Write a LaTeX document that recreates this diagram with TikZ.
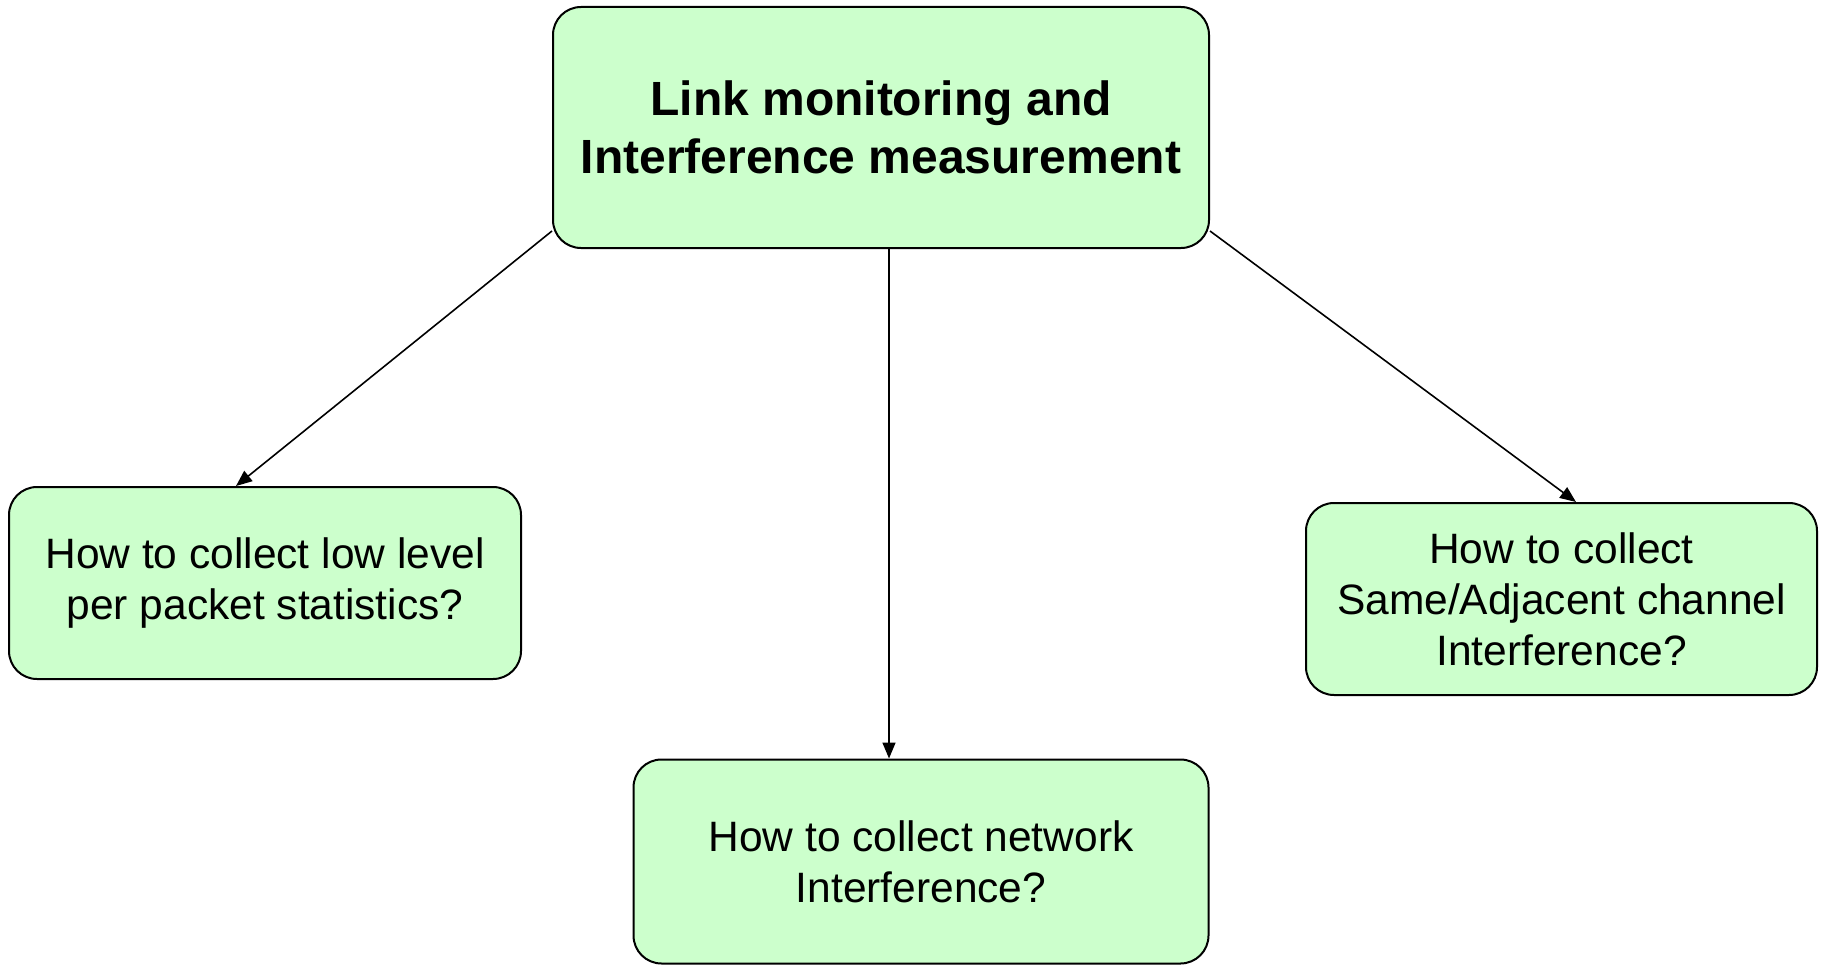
\documentclass[tikz,border=0pt]{standalone}
\usepackage{fontspec}
\setmainfont{Liberation Sans}
\usetikzlibrary{arrows.meta,calc}
\definecolor{boxfill}{RGB}{204,255,204}
\tikzset{
  qbox/.style={draw=black, line width=2pt, fill=boxfill, rounded corners=28pt,
    inner sep=0pt, align=center, font=\fontsize{42.5}{51}\selectfont},
  headbox/.style={qbox, font=\fontsize{48}{57.5}\selectfont\bfseries},
  link/.style={draw=black, line width=1.6pt, -{Triangle[length=16pt,width=13pt]}}
}
\begin{document}
\begin{tikzpicture}[x=1pt,y=-1pt]
  \useasboundingbox (0,0) rectangle (1823,966);
  \node[headbox, minimum width=656pt, minimum height=241pt] (top) at (881,127.5)
    {Link monitoring and\\Interference measurement};
  \node[qbox, minimum width=512pt, minimum height=192pt] (left) at (265,583)
    {How to collect low level\\per packet statistics?};
  \node[qbox, minimum width=511pt, minimum height=192pt] (right) at (1561.5,599)
    {How to collect\\Same/Adjacent channel\\Interference?};
  \node[qbox, minimum width=575pt, minimum height=204pt] (bottom) at (921,861.5)
    {How to collect network\\Interference?};
  \draw[link] ([yshift=18pt]top.south west) -- ([xshift=-29pt]left.north);
  \draw[link] ([xshift=8pt]top.south) -- ([xshift=-32pt]bottom.north);
  \draw[link] ([yshift=18pt]top.south east) -- ([xshift=14.5pt]right.north);
\end{tikzpicture}
\end{document}
